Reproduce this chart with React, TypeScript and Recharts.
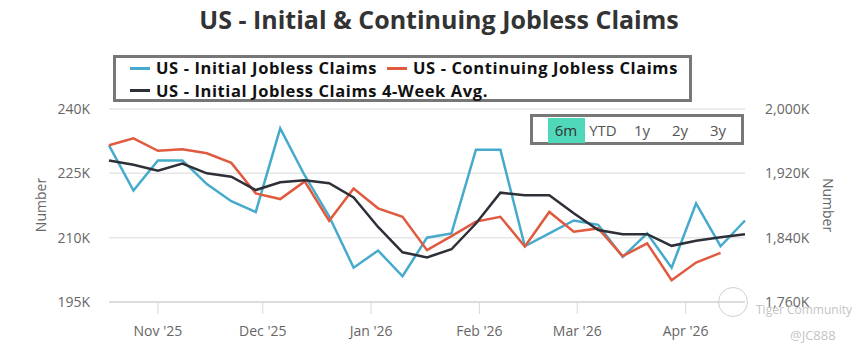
import React from 'react';
import { LineChart, Line, XAxis, YAxis, CartesianGrid } from 'recharts';

const weekEnding = [
  '2025-10-18', '2025-10-25', '2025-11-01', '2025-11-08', '2025-11-15', '2025-11-22', '2025-11-29',
  '2025-12-06', '2025-12-13', '2025-12-20', '2025-12-27', '2026-01-03', '2026-01-10', '2026-01-17',
  '2026-01-24', '2026-01-31', '2026-02-07', '2026-02-14', '2026-02-21', '2026-02-28', '2026-03-07',
  '2026-03-14', '2026-03-21', '2026-03-28', '2026-04-04', '2026-04-11', '2026-04-18',
];

// thousands
const initialClaims = [
  231.5, 221, 228, 228, 222.5, 218.5, 216, 235.5, 224.5, 215, 203, 207, 201, 210,
  211, 230.5, 230.5, 208, 211, 214, 213, 205.5, 211, 203, 218, 208, 214,
];

const continuingClaims = [
  1955, 1963.5, 1948, 1950, 1945, 1933, 1895, 1888, 1910, 1861, 1901, 1876.5, 1866, 1824.5,
  1842, 1860, 1866, 1829, 1872, 1847.5, 1851.5, 1817, 1833, 1787, 1809, 1821,
];

const fourWeekAvg = [
  228, 227, 225.6, 227.3, 225, 224.2, 221.1, 222.9, 223.4, 222.7, 219.4, 212.5, 206.6, 205.4,
  207.3, 213.3, 220.5, 219.9, 219.9, 215.7, 211.8, 210.8, 210.8, 208.1, 209.3, 210.1, 210.8,
];

const monthTickDates = ['2025-11-01', '2025-12-01', '2026-01-01', '2026-02-01', '2026-03-01', '2026-04-01'];
const monthTickLabels = ["Nov '25", "Dec '25", "Jan '26", "Feb '26", "Mar '26", "Apr '26"];
const leftTicks = [195, 210, 225, 240];
const rightTicks = [1760, 1840, 1920, 2000];
const rangeButtons = ['6m', 'YTD', '1y', '2y', '3y'];

const seriesNames = {
  initial: 'US - Initial Jobless Claims',
  continuing: 'US - Continuing Jobless Claims',
  avg: 'US - Initial Jobless Claims 4-Week Avg.',
};

const COLORS = { initial: '#45aacb', continuing: '#e05a3f', avg: '#2d3038' };

const toTs = (d: string) => Date.parse(d + 'T00:00:00Z');

const data = weekEnding.map((d, i) => ({
  t: toTs(d),
  initial: initialClaims[i],
  continuing: i < continuingClaims.length ? continuingClaims[i] : null,
  avg: fourWeekAvg[i],
}));

const monthTicks = monthTickDates.map(toTs);
const tickLabel = (v: number) => {
  const idx = monthTicks.indexOf(v);
  return idx >= 0 ? monthTickLabels[idx] : '';
};

const FONT = '"Open Sans", "Noto Sans", sans-serif';

function LegendItem({ x, y, color, label }: { x: number; y: number; color: string; label: string }) {
  return (
    <div style={{ position: 'absolute', left: x, top: y - 10, height: 20, display: 'flex', alignItems: 'center', whiteSpace: 'nowrap' }}>
      <div style={{ width: 20, height: 3, background: color, marginRight: 6 }} />
      <span style={{ fontWeight: 700, fontSize: 16.5, letterSpacing: '0.6px', lineHeight: '20px', color: '#111', fontFamily: FONT }}>{label}</span>
    </div>
  );
}

export default function App() {
  const btnCenters = [566, 603, 642, 680, 718];
  return (
    <div style={{ position: 'absolute', left: 0, top: 0, width: 860, height: 356, background: '#fff', fontFamily: FONT, overflow: 'hidden' }}>
      <LineChart
        width={860}
        height={356}
        data={data}
        margin={{ top: 109, right: 20, bottom: 14, left: 20 }}
        style={{ fontFamily: FONT }}
      >
        <CartesianGrid yAxisId="left" vertical={false} stroke="#e6e6e6" strokeWidth={1.5} />
        <XAxis
          dataKey="t"
          type="number"
          domain={['dataMin', 'dataMax']}
          ticks={monthTicks}
          tickFormatter={tickLabel}
          height={40}
          axisLine={{ stroke: '#d9d9d9', strokeWidth: 1.5 }}
          tickLine={{ stroke: '#d9d9d9' }}
          tickSize={12}
          tickMargin={12}
          tick={{ fontSize: 14, fill: '#666' }}
        />
        <YAxis
          yAxisId="left"
          orientation="left"
          width={89}
          domain={[195, 240]}
          ticks={leftTicks}
          tickFormatter={(v: number) => `${v}K`}
          axisLine={false}
          tickLine={false}
          tickMargin={13}
          tick={{ fontSize: 14, fill: '#666' }}
        />
        <YAxis
          yAxisId="right"
          orientation="right"
          width={95}
          domain={[1760, 2000]}
          ticks={rightTicks}
          tickFormatter={(v: number) => `${v.toLocaleString('en-US')}K`}
          axisLine={false}
          tickLine={false}
          tickMargin={14}
          tick={{ fontSize: 14, fill: '#666' }}
        />
        <Line yAxisId="left" type="linear" dataKey="initial" name={seriesNames.initial} stroke={COLORS.initial} strokeWidth={2.5} dot={false} isAnimationActive={false} />
        <Line yAxisId="right" type="linear" dataKey="continuing" name={seriesNames.continuing} stroke={COLORS.continuing} strokeWidth={2.5} dot={false} isAnimationActive={false} />
        <Line yAxisId="left" type="linear" dataKey="avg" name={seriesNames.avg} stroke={COLORS.avg} strokeWidth={2.5} dot={false} isAnimationActive={false} />
      </LineChart>

      {/* Title */}
      <div style={{ position: 'absolute', left: 0, width: 878, top: 2, lineHeight: '34px', textAlign: 'center', fontSize: 25, fontWeight: 700, color: '#333', whiteSpace: 'nowrap' }}>
        US - Initial &amp; Continuing Jobless Claims
      </div>

      {/* Legend */}
      <div style={{ position: 'absolute', left: 113, top: 55, width: 579, height: 47, border: '3px solid #777', boxSizing: 'border-box' }} />
      <LegendItem x={130} y={68} color={COLORS.initial} label={seriesNames.initial} />
      <LegendItem x={387} y={68} color={COLORS.continuing} label={seriesNames.continuing} />
      <LegendItem x={130} y={90.5} color={COLORS.avg} label={seriesNames.avg} />

      {/* Range selector */}
      <div style={{ position: 'absolute', left: 530, top: 114, width: 214, height: 31, border: '3px solid #777', boxSizing: 'border-box', background: '#fff' }} />
      <div style={{ position: 'absolute', left: 548, top: 118, width: 37, height: 25, background: '#4fd8b9' }} />
      {rangeButtons.map((b, i) => (
        <div key={b} style={{ position: 'absolute', left: btnCenters[i] - 25, width: 50, top: 119, height: 22, lineHeight: '22px', textAlign: 'center', fontSize: 15, color: i === 0 ? '#333' : '#555' }}>
          {b}
        </div>
      ))}

      {/* Axis titles */}
      <div style={{ position: 'absolute', left: 40, top: 205, transform: 'translate(-50%, -50%) rotate(-90deg)', fontSize: 14, color: '#666' }}>Number</div>
      <div style={{ position: 'absolute', left: 828, top: 205, transform: 'translate(-50%, -50%) rotate(90deg)', fontSize: 14, color: '#666' }}>Number</div>

      {/* Watermark */}
      <div style={{ position: 'absolute', left: 718, top: 287, width: 30, height: 30, borderRadius: '50%', border: '1.5px solid #d0d0d0', boxSizing: 'border-box' }} />
      <div style={{ position: 'absolute', left: 756, top: 301, fontSize: 12, color: '#c4c4c4', whiteSpace: 'nowrap' }}>Tiger Community</div>
      <div style={{ position: 'absolute', left: 790, top: 326, fontSize: 13, color: '#c4c4c4', whiteSpace: 'nowrap' }}>@JC888</div>
    </div>
  );
}
